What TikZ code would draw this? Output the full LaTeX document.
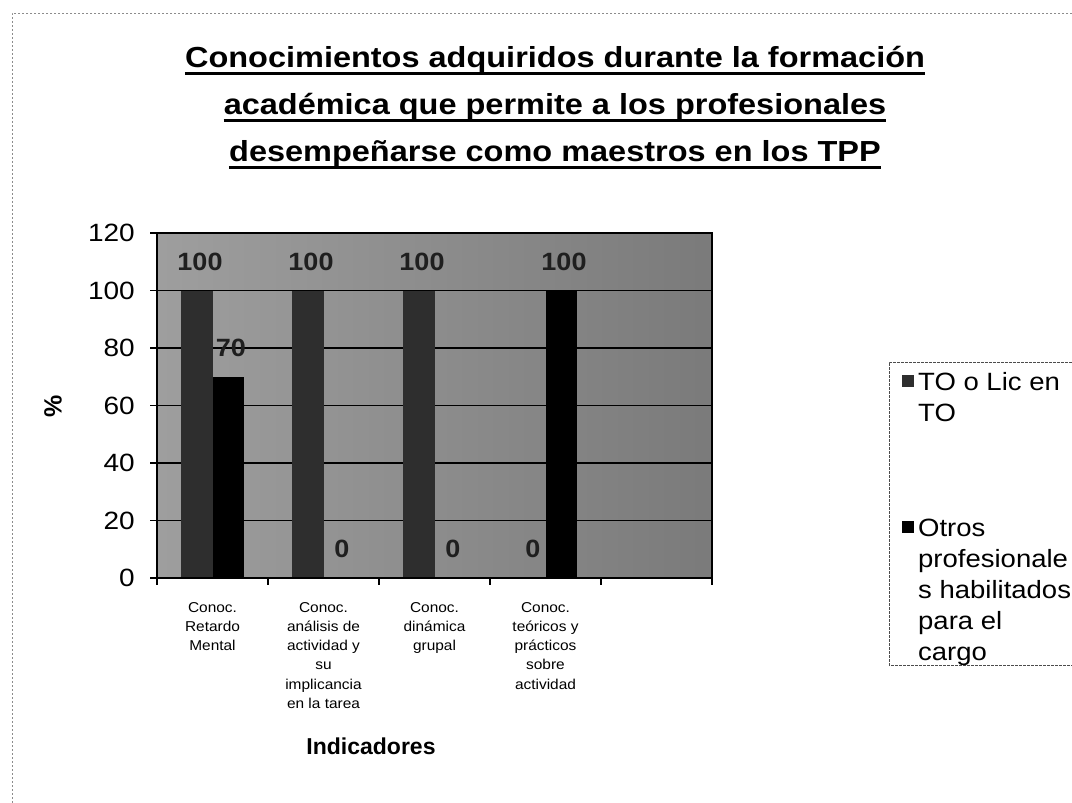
\documentclass[tikz,border=0pt]{standalone}
\usepackage{fontspec}
\setmainfont{Liberation Sans}
\usepackage{graphicx}
\usetikzlibrary{calc}
\newcommand{\sx}[2][1.12]{\scalebox{#1}[1]{#2}}
\begin{document}
\begin{tikzpicture}[x=1pt,y=-1pt,
  ttl/.style={font=\bfseries\fontsize{29}{34}\selectfont, anchor=base, inner sep=0},
  ticklab/.style={font=\fontsize{25}{30}\selectfont, anchor=east, inner sep=0},
  dlab/.style={font=\bfseries\fontsize{25}{30}\selectfont, inner sep=0, text=black!88},
  catlab/.style={font=\fontsize{14.3}{17}\selectfont, anchor=base, inner sep=0},
  leglab/.style={font=\fontsize{25}{30}\selectfont, anchor=base west, inner sep=0},
  gridln/.style={line width=1.6pt, black},
  axisln/.style={line width=1.3pt, black},
  sonebar/.style={fill=black!82},
  stwobar/.style={fill=black},
]
\useasboundingbox (0,0) rectangle (1072,803);
\fill[white] (0,0) rectangle (1072,803);
% outer faint border
\draw[black!45, line width=0.7pt, dash pattern=on 2pt off 2pt] (1072,13) -- (12,13) -- (12,803);

% title
\node[ttl] (t1) at (555,67) {\sx{Conocimientos adquiridos durante la formación}};
\node[ttl] (t2) at (555,114) {\sx{académica que permite a los profesionales}};
\node[ttl] (t3) at (555,161) {\sx{desempeñarse como maestros en los TPP}};
\foreach \t in {t1,t2,t3}
  \draw[line width=2.2pt] ($(\t.base west)+(0,6.5)$) -- ($(\t.base east)+(0,6.5)$);

% plot area
\shade[left color=black!38, right color=black!52] (157,233) rectangle (712,578);
\foreach \v in {20,40,60,80,100}
  \draw[gridln] (157,{578-2.875*\v}) -- (712,{578-2.875*\v});

% bars
\fill[sonebar] (180.8,290.5) rectangle (212.5,578);
\fill[stwobar] (212.5,376.75) rectangle (244.2,578);
\fill[sonebar] (291.8,290.5) rectangle (323.5,578);
\fill[sonebar] (402.8,290.5) rectangle (434.5,578);
\fill[stwobar] (545.5,290.5) rectangle (577.2,578);

% frame and axes
\draw[axisln] (157,233) rectangle (712,578);
\foreach \v in {0,...,6}
  \draw[axisln] (150,{578-57.5*\v}) -- (157,{578-57.5*\v});
\foreach \k in {0,...,5}
  \draw[axisln] ({157+111*\k},578) -- ({157+111*\k},585);

% y tick labels
\foreach \v [count=\i] in {0,20,40,60,80,100,120}
  \node[ticklab] (y\i) at (135,{578-2.875*\v}) {\sx{\v}};

% y axis title
\node[font=\bfseries\fontsize{25}{30}\selectfont, rotate=90, inner sep=0] (pct) at (53,406) {\%};

% data labels
\node[dlab] (d1) at (200,262) {\sx[1.08]{100}};
\node[dlab] (d2) at (231,348) {\sx[1.08]{70}};
\node[dlab] (d3) at (311,262) {\sx[1.08]{100}};
\node[dlab] (d4) at (342,549) {\sx[1.08]{0}};
\node[dlab] (d5) at (422,262) {\sx[1.08]{100}};
\node[dlab] (d6) at (453,549) {\sx[1.08]{0}};
\node[dlab] (d7) at (533,549) {\sx[1.08]{0}};
\node[dlab] (d8) at (564,262) {\sx[1.08]{100}};

% category labels
\foreach \cx/\lines [count=\j] in {
  212.5/{Conoc.,Retardo,Mental},
  323.5/{Conoc.,análisis de,actividad y,su,implicancia,en la tarea},
  434.5/{Conoc.,dinámica,grupal},
  545.5/{Conoc.,teóricos y,prácticos,sobre,actividad}}
  \foreach \l [count=\i] in \lines
    \node[catlab] (c\j-\i) at (\cx,{612+19.3*(\i-1)}) {\sx[1.08]{\l}};

% x axis title
\node[font=\bfseries\fontsize{23}{28}\selectfont, inner sep=0] (xl) at (371,746) {Indicadores};

% legend
\draw[black!70, line width=0.8pt, dash pattern=on 3pt off 1pt] (1072,362) -- (889,362) -- (889,665) -- (1072,665);
\fill[black!82] (902,375) rectangle (914,387);
\fill[black] (902,521) rectangle (914,533);
\node[leglab] (l1) at (918,390) {\sx[1.1]{TO o Lic en}};
\node[leglab] (l2) at (918,421) {\sx[1.1]{TO}};
\foreach \l [count=\i] in {Otros,profesionale,s habilitados,para el,cargo}
  \node[leglab] (m\i) at (918,{536+31*(\i-1)}) {\sx[1.1]{\l}};
\end{tikzpicture}
\end{document}
